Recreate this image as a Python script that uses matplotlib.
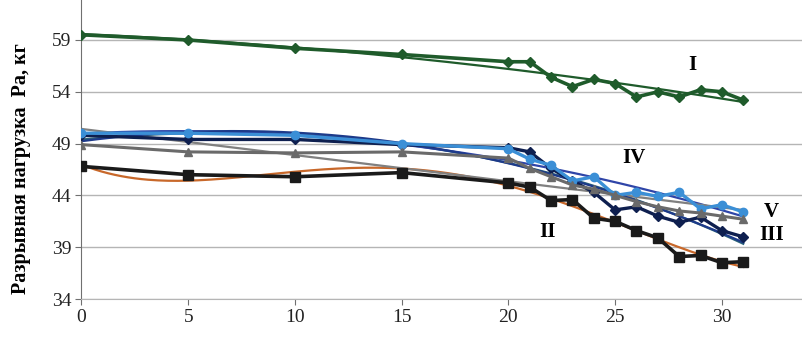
import numpy as np
import matplotlib
matplotlib.use("Agg")
import matplotlib.pyplot as plt

days = [0, 5, 10, 15, 20, 21, 22, 23, 24, 25, 26, 27, 28, 29, 30, 31]
s1 = [59.5, 59.0, 58.2, 57.6, 56.9, 56.9, 55.4, 54.5, 55.2, 54.8, 53.5, 54.0, 53.5, 54.2, 54.0, 53.2]
s2 = [46.8, 46.0, 45.8, 46.2, 45.2, 44.8, 43.5, 43.6, 41.8, 41.5, 40.6, 39.9, 38.1, 38.2, 37.5, 37.6]
s3 = [49.8, 49.4, 49.4, 48.9, 48.6, 48.2, 46.6, 45.4, 44.3, 42.6, 42.9, 42.0, 41.4, 41.9, 40.6, 40.0]
s4 = [50.0, 50.0, 49.8, 49.0, 48.5, 47.5, 46.9, 45.4, 45.8, 44.0, 44.3, 43.9, 44.3, 42.7, 43.1, 42.4]
s5 = [48.9, 48.2, 48.1, 48.2, 47.6, 46.6, 45.8, 45.0, 44.6, 44.0, 43.4, 42.9, 42.5, 42.3, 42.0, 41.7]
labels = ["I", "II", "III", "IV", "V"]

fig = plt.figure(figsize=(8.03, 3.38), dpi=100)
ax = fig.add_axes([81.5 / 803, 39 / 338, 1 - 81.5 / 803, 1 - 39 / 338])

x = np.array(days, dtype=float)
xs = np.linspace(0, 31, 200)

series = [
    (s1, "#1f5b2b", "D", 5, "#1f5b2b", 2, 2.6),
    (s2, "#1a1a1a", "s", 7, "#c8682a", 4, 2.6),
    (s3, "#0e1f4f", "D", 5, "#2a6378", 3, 2.4),
    (s4, "#3b8fd6", "o", 6, "#2f45a8", 2, 2.4),
    (s5, "#6a6a6a", "^", 6, "#808080", 1, 2.2),
]

for vals, col, mk, ms, tcol, deg, lw in series:
    v = np.array(vals)
    coef = np.polyfit(x, v, deg)
    ax.plot(xs, np.polyval(coef, xs), color=tcol, lw=1.6, zorder=2)
    ax.plot(x, v, color=col, lw=lw, marker=mk, ms=ms, zorder=3)

# extra smooth trend for series III (dark navy)
coef = np.polyfit(x, np.array(s3), 2)
ax.plot(xs, np.polyval(coef, xs), color="#1d3a8a", lw=1.6, zorder=2)

tf = dict(family="Liberation Serif", fontweight="bold", fontsize=15, color="black")
ax.text(28.6, 56.6, labels[0], ha="center", va="center", **tf)
ax.text(21.85, 40.45, labels[1], ha="center", va="center", **tf)
ax.text(32.35, 40.2, labels[2], ha="center", va="center", **tf)
ax.text(25.9, 47.6, labels[3], ha="center", va="center", **tf)
ax.text(32.3, 42.4, labels[4], ha="center", va="center", **tf)

ax.set_xlim(0, 33.8)
ax.set_ylim(34, 62.86)
ax.set_xticks([0, 5, 10, 15, 20, 25, 30])
ax.set_yticks([34, 39, 44, 49, 54, 59])
ax.grid(axis="y", color="#b5b5b5", lw=1)
ax.set_axisbelow(True)
for s in ["top", "right"]:
    ax.spines[s].set_visible(False)
ax.spines["left"].set_color("#707070")
ax.spines["bottom"].set_color("#b5b5b5")
ax.tick_params(axis="both", colors="#707070", labelcolor="#222222", labelsize=14, length=4)
for lab in ax.get_xticklabels() + ax.get_yticklabels():
    lab.set_family("Liberation Serif")

fig.text(0.026, 0.5, "Разрывная нагрузка  Ра, кг", rotation=90, ha="center", va="center",
         family="Liberation Serif", fontweight="bold", fontsize=14.5)

fig.savefig("out.png", dpi=100)
